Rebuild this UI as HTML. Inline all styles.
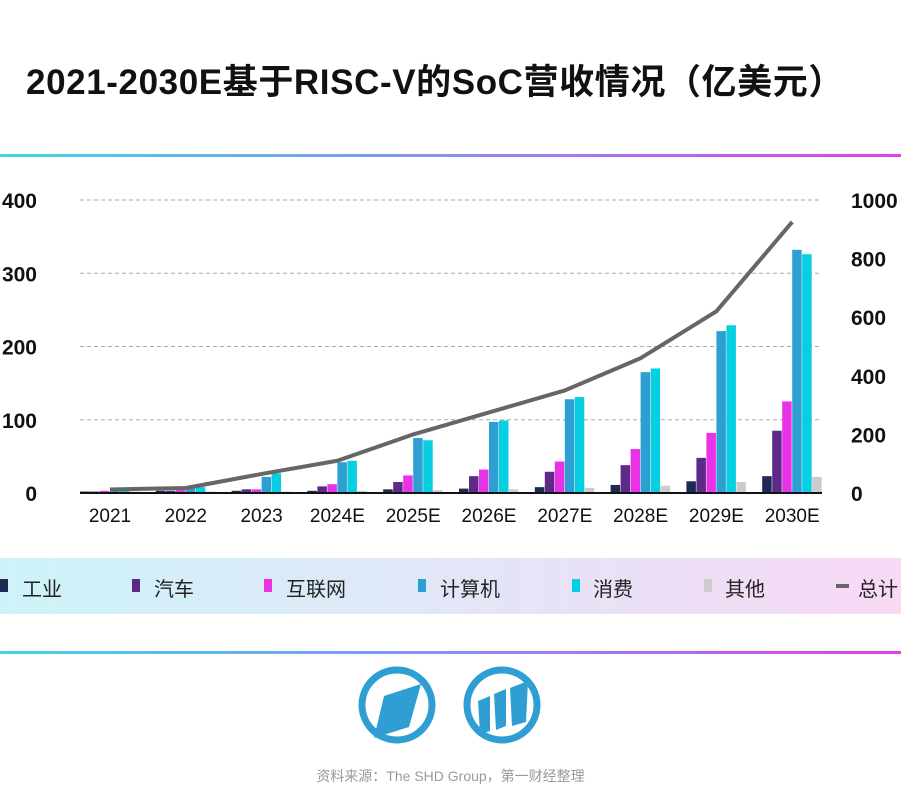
<!DOCTYPE html>
<html><head><meta charset="utf-8">
<style>
body{margin:0;background:#fff;}
#wrap{position:relative;width:901px;height:803px;overflow:hidden;background:#fff;font-family:"Liberation Sans","Noto Sans CJK SC",sans-serif;}
.title{position:absolute;left:26px;top:54px;font-size:35px;font-weight:bold;color:#111;white-space:nowrap;letter-spacing:0.6px;}
.gl{position:absolute;left:0;width:901px;height:3px;background:linear-gradient(90deg,#3fd6e8,#8a8ff0,#e040e8);}
.legend{position:absolute;left:0;top:558px;width:901px;height:56px;background:linear-gradient(90deg,#cdf3f8,#e2e6f7 50%,#f8d9f6);}
.li{position:absolute;top:15px;font-size:20px;color:#222;white-space:nowrap;}
.mk{position:absolute;top:21px;width:8px;height:13px;}
.src{position:absolute;top:766px;left:0;width:901px;text-align:center;font-size:14px;color:#999;}
</style></head><body>
<div id="wrap">
<div class="title">2021-2030E基于RISC-V的SoC营收情况（亿美元）</div>
<div class="gl" style="top:154px"></div>
<svg id="chart" width="901" height="550" style="position:absolute;left:0;top:0"></svg>
<div class="legend">
 <div class="mk" style="left:0;background:#1c2a55"></div><div class="li" style="left:22px">工业</div>
 <div class="mk" style="left:132px;background:#5e2a8a"></div><div class="li" style="left:154px">汽车</div>
 <div class="mk" style="left:264px;background:#e832e6"></div><div class="li" style="left:286px">互联网</div>
 <div class="mk" style="left:418px;background:#2e9fd3"></div><div class="li" style="left:440px">计算机</div>
 <div class="mk" style="left:572px;background:#05cfe0"></div><div class="li" style="left:593px">消费</div>
 <div class="mk" style="left:704px;background:#cccccc"></div><div class="li" style="left:725px">其他</div>
 <div class="mk" style="left:836px;top:26px;width:13px;height:4px;background:#666"></div><div class="li" style="left:858px">总计</div>
</div>
<div class="gl" style="top:651px"></div>
<svg width="901" height="100" style="position:absolute;left:0;top:665px">
 <g>
  <circle cx="397" cy="40" r="35" fill="none" stroke="#2f9fd3" stroke-width="7"/>
  <polygon points="384,31 421,19 409,62 374,73" fill="#2f9fd3"/>
  <line x1="420" y1="4" x2="432" y2="10" stroke="#fff" stroke-width="4"/>
  <line x1="364" y1="72" x2="374" y2="78" stroke="#fff" stroke-width="4"/>
 </g>
 <g>
  <circle cx="502" cy="40" r="35" fill="none" stroke="#2f9fd3" stroke-width="7"/>
  <polygon points="478,36 490,31 490,66 480,69" fill="#2f9fd3"/>
  <polygon points="494,29 506,24 506,61 496,65" fill="#2f9fd3"/>
  <polygon points="510,23 528,16 526,57 512,61" fill="#2f9fd3"/>
 </g>
</svg>
<div class="src">资料来源：The SHD Group，第一财经整理</div>
</div>
<script>
const categories=["2021","2022","2023","2024E","2025E","2026E","2027E","2028E","2029E","2030E"];
const industry=[2,3,3,3,5,6,8,11,16,23];
const auto=[2,3,5,9,15,23,29,38,48,85];
const internet=[3,4,5,12,24,32,43,60,82,125];
const computing=[3,8,22,42,75,97,128,165,221,332];
const consumer=[3,8,27,44,72,99,131,170,229,326];
const other=[2,2,2,3,4,5,7,10,15,22];
const total=[12,17,65,110,200,275,350,460,620,925];
const leftTicks=[0,100,200,300,400];
const rightTicks=[0,200,400,600,800,1000];

const NS="http://www.w3.org/2000/svg";
const svg=document.getElementById('chart');
const y0=493,y1=200;
const yL=v=>y0-(v/400)*(y0-y1);
const yR=v=>y0-(v/1000)*(y0-y1);
const xC=i=>110+i*75.8;
function mk(t,a){const e=document.createElementNS(NS,t);for(const k in a)e.setAttribute(k,a[k]);svg.appendChild(e);return e;}
leftTicks.forEach(v=>{
 if(v>0){const g=mk('line',{x1:80,x2:820,y1:yL(v),y2:yL(v),stroke:'#aaa','stroke-dasharray':'4,3','stroke-width':1});
 
 }
 const t=mk('text',{x:37,y:yL(v)+8,'text-anchor':'end','font-size':21,'font-weight':'bold',fill:'#111','font-family':'Liberation Sans'});
 t.textContent=v;
 
 
});
rightTicks.forEach(v=>{
 const t=mk('text',{x:851,y:yR(v)+8,'font-size':21,'font-weight':'bold',fill:'#111','font-family':'Liberation Sans'});
 t.textContent=v;
 
 
});
const series=[[industry,'#1c2a55','industry'],[auto,'#5e2a8a','auto'],[internet,'#e832e6','internet'],[computing,'#2e9fd3','computing'],[consumer,'#05cfe0','consumer'],[other,'#cccccc','other']];
categories.forEach((c,i)=>{
 series.forEach((s,j)=>{
  const v=s[0][i];const x=xC(i)-30+j*10;
  const r=mk('rect',{x:x,y:yL(v),width:9.5,height:y0-yL(v),fill:s[1]});
  
  
 });
 const t=mk('text',{x:xC(i),y:522,'text-anchor':'middle','font-size':19,fill:'#111','font-family':'Liberation Sans'});
 t.textContent=c;
 
 
});
const ax=mk('line',{x1:80,x2:822,y1:y0,y2:y0,stroke:'#111','stroke-width':2});


const pl=mk('polyline',{points:total.map((v,i)=>xC(i)+','+yR(v)).join(' '),fill:'none',stroke:'#666','stroke-width':4,'stroke-linejoin':'round'});


</script>
</body></html>
